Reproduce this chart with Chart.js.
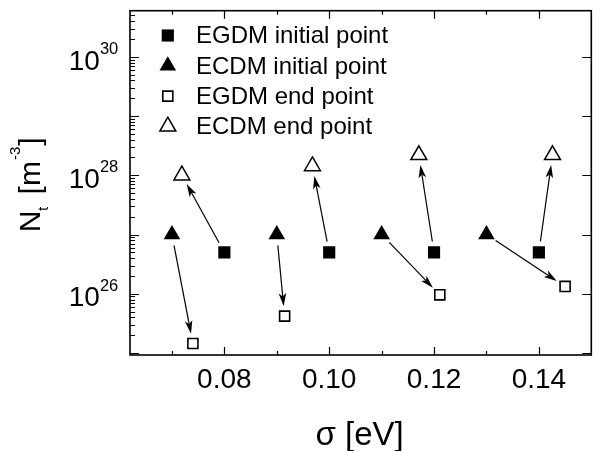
<!DOCTYPE html>
<html>
<head>
<meta charset="utf-8">
<script src="https://cdn.jsdelivr.net/npm/chart.js@4.4.1/dist/chart.umd.min.js"></script>
<style>
  html, body { margin: 0; padding: 0; background: #fff; overflow: hidden; }
  #wrap { width: 602px; height: 451px; }
</style>
</head>
<body>
<div id="wrap"><canvas id="chart" width="602" height="451"></canvas></div>
<script>
const FONT = "'Liberation Sans', Arial, Helvetica, sans-serif";

// sigma [eV] / trap density Nt [m^-3]
const egdmInitX = [0.08, 0.10, 0.12, 0.14];
const egdmInitY = [5e26, 5e26, 5e26, 5e26];
const ecdmInitX = [0.07, 0.09, 0.11, 0.13];
const ecdmInitY = [1e27, 1e27, 1e27, 1e27];
const egdmEndX = [0.074, 0.0915, 0.1211, 0.145];
const egdmEndY = [1.45e25, 4.2e25, 9.6e25, 1.33e26];
const ecdmEndX = [0.0719, 0.0968, 0.1171, 0.1426];
const ecdmEndY = [1.0e28, 1.43e28, 2.2e28, 2.2e28];

const seriesLabels = ['EGDM initial point', 'ECDM initial point', 'EGDM end point', 'ECDM end point'];

// axis ticks
const xMajorTicks = [0.08, 0.10, 0.12, 0.14];
const xMinorTicks = [0.07, 0.09, 0.11, 0.13];
const yDecades = [25, 26, 27, 28, 29, 30];
const yLabelDecades = [26, 28, 30];

// arrows: [from dataset, to dataset], one per sigma group
const arrowPairs = [[1, 2], [0, 3]];

const pts = (xs, ys) => xs.map((x, i) => ({ x: x, y: ys[i] }));

function marker(ctx, ds, x, y) {
  ctx.save();
  ctx.fillStyle = ds.backgroundColor;
  ctx.strokeStyle = ds.borderColor;
  ctx.lineWidth = ds.borderWidth;
  const opts = { pointStyle: ds.pointStyle, radius: ds.pointRadius, rotation: 0, borderWidth: ds.borderWidth };
  if (Chart.helpers && Chart.helpers.drawPoint) {
    Chart.helpers.drawPoint(ctx, opts, x, y);
  } else {
    const r = ds.pointRadius;
    ctx.beginPath();
    if (ds.pointStyle === 'rect') {
      const s = r * Math.SQRT1_2;
      ctx.rect(x - s, y - s, 2 * s, 2 * s);
    } else {
      ctx.moveTo(x, y - r);
      ctx.lineTo(x + r * Math.sin(2 * Math.PI / 3), y + r / 2);
      ctx.lineTo(x - r * Math.sin(2 * Math.PI / 3), y + r / 2);
      ctx.closePath();
    }
    ctx.fill();
    if (ds.borderWidth > 0) ctx.stroke();
  }
  ctx.restore();
}

const originAxes = {
  id: 'originAxes',
  beforeDatasetsDraw(chart) {
    const ctx = chart.ctx, xs = chart.scales.x, ys = chart.scales.y;
    const sets = chart.data.datasets;
    ctx.save();
    ctx.strokeStyle = '#000';
    ctx.fillStyle = '#000';
    ctx.lineWidth = 1.2;
    arrowPairs.forEach(([a, b]) => {
      sets[a].data.forEach((p, i) => {
        const q = sets[b].data[i];
        const x0 = xs.getPixelForValue(p.x), y0 = ys.getPixelForValue(p.y);
        const x1 = xs.getPixelForValue(q.x), y1 = ys.getPixelForValue(q.y);
        const len = Math.hypot(x1 - x0, y1 - y0);
        const ux = (x1 - x0) / len, uy = (y1 - y0) / len;
        const sx = x0 + ux * 11, sy = y0 + uy * 11;
        const tx = x1 - ux * 10, ty = y1 - uy * 10;
        const hl = 13, hw = 3.8;
        ctx.beginPath();
        ctx.moveTo(sx, sy);
        ctx.lineTo(tx - ux * hl * 0.7, ty - uy * hl * 0.7);
        ctx.stroke();
        ctx.beginPath();
        ctx.moveTo(tx, ty);
        ctx.lineTo(tx - ux * hl - uy * hw, ty - uy * hl + ux * hw);
        ctx.lineTo(tx - ux * hl * 0.75, ty - uy * hl * 0.75);
        ctx.lineTo(tx - ux * hl + uy * hw, ty - uy * hl - ux * hw);
        ctx.closePath();
        ctx.fill();
      });
    });
    ctx.restore();
  },
  afterDraw(chart) {
    const ctx = chart.ctx, xs = chart.scales.x, ys = chart.scales.y;
    const { left, right, top, bottom } = chart.chartArea;
    ctx.save();
    ctx.strokeStyle = '#000';
    ctx.fillStyle = '#000';

    // frame
    ctx.lineWidth = 1.6;
    ctx.strokeRect(left, top, right - left, bottom - top);

    // tick marks, all pointing inward
    ctx.lineWidth = 1.2;
    ctx.beginPath();
    const xTick = (v, len) => {
      const px = Math.round(xs.getPixelForValue(v)) + 0.5;
      ctx.moveTo(px, bottom); ctx.lineTo(px, bottom - len);
      ctx.moveTo(px, top); ctx.lineTo(px, top + len);
    };
    xMajorTicks.forEach(v => xTick(v, 8));
    xMinorTicks.forEach(v => xTick(v, 4));
    yDecades.forEach(d => {
      const py = Math.round(ys.getPixelForValue(Math.pow(10, d))) + 0.5;
      ctx.moveTo(left, py); ctx.lineTo(left + 9, py);
      ctx.moveTo(right, py); ctx.lineTo(right - 9, py);
      for (let m = 2; m <= 9; m++) {
        const v = m * Math.pow(10, d);
        if (v > ys.max) break;
        const pm = Math.round(ys.getPixelForValue(v)) + 0.5;
        ctx.moveTo(left, pm); ctx.lineTo(left + 5, pm);
      }
    });
    ctx.stroke();

    // x tick labels
    ctx.font = '28px ' + FONT;
    ctx.textAlign = 'center';
    ctx.textBaseline = 'alphabetic';
    xMajorTicks.forEach(v => ctx.fillText(v.toFixed(2), xs.getPixelForValue(v), 388));

    // y tick labels as 10^n
    yLabelDecades.forEach(d => {
      const py = ys.getPixelForValue(Math.pow(10, d));
      const edge = left - 11.7;
      ctx.font = '16.5px ' + FONT;
      const sup = String(d);
      const sw = ctx.measureText(sup).width;
      ctx.textAlign = 'left';
      ctx.fillText(sup, edge - sw, py - 3);
      ctx.font = '28px ' + FONT;
      ctx.textAlign = 'right';
      ctx.fillText('10', edge - sw, py + 12.7);
    });

    // axis titles
    ctx.font = '33px ' + FONT;
    ctx.textAlign = 'center';
    ctx.fillText('σ [eV]', (left + right) / 2 - 1, 445);

    ctx.save();
    ctx.translate(40, (top + bottom) / 2 + 2);
    ctx.rotate(-Math.PI / 2);
    ctx.textAlign = 'left';
    const parts = [
      { t: 'N', size: 30, dy: 0, gap: 0 },
      { t: 't', size: 14, dy: 8, gap: 4 },
      { t: ' [m', size: 30, dy: 0, gap: 1 },
      { t: '-3', size: 15, dy: -20, gap: 1 },
      { t: ']', size: 30, dy: 0, gap: 0 }
    ];
    let total = 0;
    parts.forEach(p => { ctx.font = p.size + 'px ' + FONT; p.w = ctx.measureText(p.t).width; total += p.w + p.gap; });
    let cx = -total / 2;
    parts.forEach(p => {
      ctx.font = p.size + 'px ' + FONT;
      ctx.fillText(p.t, cx, p.dy);
      cx += p.w + p.gap;
    });
    ctx.restore();

    // legend inside the plot
    chart.data.datasets.forEach((ds, i) => {
      const cy = 35.5 + 30.3 * i;
      marker(ctx, ds, 167.8, cy);
      ctx.font = '24px ' + FONT;
      ctx.textAlign = 'left';
      ctx.fillStyle = '#000';
      ctx.fillText(ds.label, 196, cy + 7.8);
    });
    ctx.restore();
  }
};

new Chart(document.getElementById('chart'), {
  type: 'scatter',
  data: {
    datasets: [
      { label: seriesLabels[0], data: pts(egdmInitX, egdmInitY), pointStyle: 'rect', pointRadius: 8.6,
        backgroundColor: '#000', borderColor: '#000', borderWidth: 0 },
      { label: seriesLabels[1], data: pts(ecdmInitX, ecdmInitY), pointStyle: 'triangle', pointRadius: 9.6,
        backgroundColor: '#000', borderColor: '#000', borderWidth: 0 },
      { label: seriesLabels[2], data: pts(egdmEndX, egdmEndY), pointStyle: 'rect', pointRadius: 7.1,
        backgroundColor: '#fff', borderColor: '#000', borderWidth: 1.6 },
      { label: seriesLabels[3], data: pts(ecdmEndX, ecdmEndY), pointStyle: 'triangle', pointRadius: 9.2,
        backgroundColor: '#fff', borderColor: '#000', borderWidth: 1.5 }
    ]
  },
  options: {
    responsive: false,
    animation: false,
    events: [],
    layout: { padding: { left: 130, right: 0, top: 7.5, bottom: 96 } },
    scales: {
      x: { type: 'linear', min: 0.062, max: 0.15, display: false },
      y: { type: 'logarithmic', min: 9.26e24, max: 6e30, display: false }
    },
    plugins: {
      legend: { display: false },
      tooltip: { enabled: false }
    }
  },
  plugins: [originAxes]
});
</script>
</body>
</html>
